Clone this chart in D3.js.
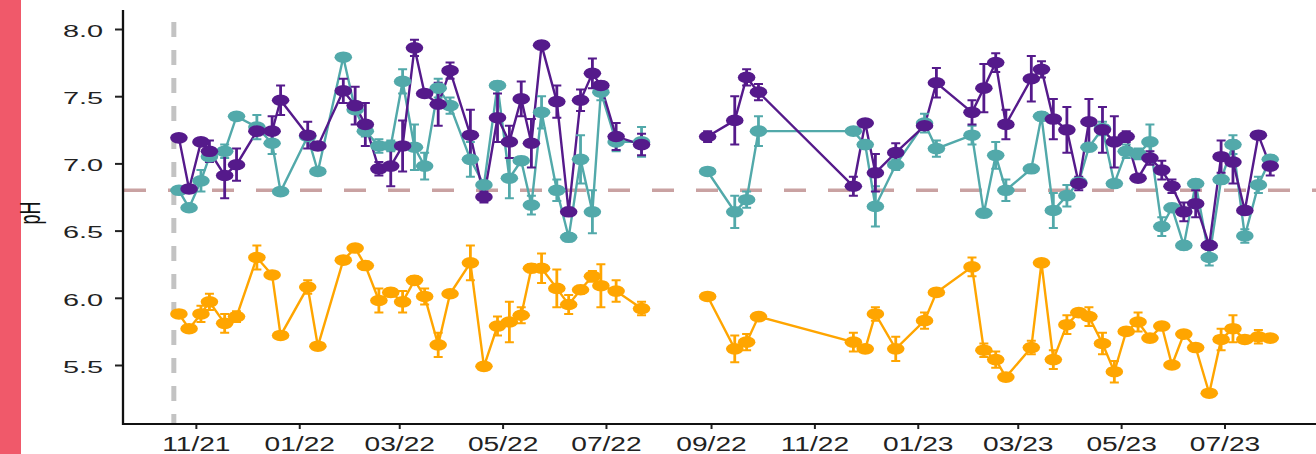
<!DOCTYPE html>
<html>
<head>
<meta charset="utf-8">
<script src="https://cdn.jsdelivr.net/npm/d3@7"></script>
<style>
body { margin: 0; background: #fff; }
svg { display: block; font-family: "Liberation Sans", Arial, sans-serif; }
</style>
</head>
<body>
<svg width="1316" height="454"></svg>
<script>
// sampling dates (null row = break in the lines)
const sampleDates = [
  "2021-10-22","2021-10-28","2021-11-04","2021-11-09","2021-11-18","2021-11-25","2021-12-07","2021-12-16","2021-12-21",
  "2022-01-06","2022-01-12","2022-01-27","2022-02-03","2022-02-09","2022-02-17","2022-02-24","2022-03-03","2022-03-10",
  "2022-03-16","2022-03-24","2022-03-31","2022-04-12","2022-04-20","2022-04-28","2022-05-05","2022-05-12","2022-05-18",
  "2022-05-24","2022-06-02","2022-06-09","2022-06-16","2022-06-23","2022-06-28","2022-07-07","2022-07-22","2022-08-10",
  "2022-08-30","2022-09-15","2022-09-22","2022-09-29","2022-11-24","2022-12-01","2022-12-07","2022-12-19","2023-01-05",
  "2023-01-12","2023-02-02","2023-02-09","2023-02-16","2023-02-22","2023-03-09","2023-03-15","2023-03-22","2023-03-30",
  "2023-04-06","2023-04-12","2023-04-20","2023-04-27","2023-05-04","2023-05-11","2023-05-18","2023-05-25","2023-05-31",
  "2023-06-07","2023-06-14","2023-06-22","2023-06-29","2023-07-06","2023-07-13","2023-07-21","2023-07-28"
];

const purplePH = [
  7.19,6.81,7.16,7.09,6.91,6.99,7.24,7.24,7.47,
  7.21,7.13,7.54,7.43,7.29,6.96,6.98,7.13,7.86,
  7.52,7.44,7.69,7.21,6.75,7.34,7.16,7.48,7.15,
  7.88,7.46,6.64,7.47,7.67,7.58,7.20,7.14,null,
  7.20,7.32,7.64,7.53,6.83,7.30,6.93,7.08,7.28,
  7.60,7.38,7.56,7.75,7.29,7.63,7.70,7.33,7.25,
  6.85,7.31,7.25,7.16,7.20,6.89,7.04,6.95,6.83,
  6.64,6.70,6.39,7.05,7.01,6.65,7.21,6.98
];
const purpleErr = [
  0,0.03,0,0.08,0.17,0.12,0.03,0.11,0.11,
  0.10,0.03,0.09,0.14,0.16,0.05,0.15,0.19,0.06,
  0,0.16,0.06,0.19,0.04,0.18,0.12,0.13,0.18,
  0.03,0.12,0.03,0.08,0.11,0.03,0.10,0.08,0,
  0.04,0.18,0.06,0.06,0.07,0,0.14,0.07,0.03,
  0.11,0.09,0.18,0.07,0.11,0.17,0.06,0.15,0.17,
  0.05,0.17,0.17,0.19,0.04,0.02,0.05,0.07,0.05,
  0.07,0.10,0.03,0.12,0.16,0.03,0.02,0.07
];

const tealPH = [
  6.80,6.67,6.87,7.05,7.09,7.35,7.27,7.15,6.79,
  7.20,6.94,7.79,7.40,7.24,7.13,7.13,7.61,7.12,
  6.98,7.56,7.43,7.03,6.84,7.58,6.89,7.02,6.69,
  7.38,6.80,6.45,7.03,6.64,7.53,7.16,7.16,null,
  6.94,6.64,6.73,7.24,7.24,7.14,6.68,6.99,7.30,
  7.11,7.21,6.63,7.06,6.80,6.96,7.35,6.65,6.76,
  6.86,7.12,7.26,6.85,7.09,7.07,7.16,6.53,6.67,
  6.39,6.85,6.30,6.88,7.14,6.46,6.84,7.03
];
const tealErr = [
  0,0.02,0.08,0.03,0.05,0,0.09,0.08,0.02,
  0,0.02,0.02,0,0.04,0.05,0.04,0.09,0.17,
  0.10,0.07,0.06,0.13,0.03,0.03,0.15,0.03,0.07,
  0.12,0.08,0.03,0.18,0.16,0.06,0.07,0.11,0,
  0,0.12,0.06,0.11,0,0.03,0.15,0.04,0.07,
  0.06,0.07,0.03,0.10,0.08,0.03,0.03,0.13,0.08,
  0.03,0.03,0.05,0.02,0.05,0.04,0.13,0.07,0.03,
  0.03,0.03,0.06,0.03,0.07,0.05,0.06,0.03
];

const orangePH = [
  5.88,5.77,5.88,5.97,5.81,5.86,6.30,6.17,5.72,
  6.08,5.64,6.28,6.37,6.24,5.98,6.04,5.97,6.13,
  6.01,5.65,6.03,6.26,5.49,5.79,5.82,5.87,6.22,
  6.22,6.07,5.95,6.06,6.16,6.09,6.05,5.92,null,
  6.01,5.62,5.67,5.86,5.67,5.62,5.88,5.62,5.83,
  6.04,6.23,5.61,5.54,5.41,5.63,6.26,5.54,5.80,
  5.89,5.86,5.66,5.45,5.75,5.82,5.70,5.79,5.50,
  5.73,5.63,5.29,5.69,5.77,5.69,5.71,5.70
];
const orangeErr = [
  0,0,0.06,0.06,0.07,0.04,0.09,0,0,
  0.05,0,0,0,0.03,0.09,0.03,0.08,0.03,
  0.06,0.09,0,0.13,0,0.07,0.15,0.06,0.03,
  0.11,0.14,0.07,0.03,0.04,0.16,0.08,0.05,0,
  0,0.10,0.06,0,0.07,0,0.05,0.09,0.06,
  0,0.07,0.05,0.06,0,0.05,0,0.07,0.07,
  0,0.07,0.08,0.08,0,0.07,0,0,0,
  0,0,0,0.08,0.10,0,0.05,0
];

const xTickLabels = ["2021-11-01","2022-01-01","2022-03-01","2022-05-01","2022-07-01","2022-09-01",
                     "2022-11-01","2023-01-01","2023-03-01","2023-05-01","2023-07-01"];
const yTickValues = [5.5, 6.0, 6.5, 7.0, 7.5, 8.0];
const thresholdPH = 6.8;
const markerDate = "2021-10-19";

var svg = d3.select("svg"),
    width = +svg.attr("width"),
    height = +svg.attr("height");

const parse = d3.timeParse("%Y-%m-%d");
const panelLeft = 123, panelTop = 10, panelBottom = 424;

var x = d3.scaleTime()
    .domain([parse("2021-09-19"), parse("2023-08-24")])
    .range([panelLeft, width]);
var y = d3.scaleLinear()
    .domain([5.5, 8.0])
    .range([365, 29]);

// red strip at the left edge
svg.append("rect")
    .attr("x", 0).attr("y", 0)
    .attr("width", 21).attr("height", height)
    .attr("fill", "#f0596a");

// reference lines
svg.append("line")
    .attr("x1", panelLeft + 1).attr("x2", width)
    .attr("y1", y(thresholdPH)).attr("y2", y(thresholdPH))
    .attr("stroke", "#c9a2a2")
    .attr("stroke-width", 3.6)
    .attr("stroke-dasharray", "22 22");

svg.append("line")
    .attr("x1", x(parse(markerDate))).attr("x2", x(parse(markerDate)))
    .attr("y1", 22).attr("y2", panelBottom)
    .attr("stroke", "#c3c3c3")
    .attr("stroke-width", 5)
    .attr("stroke-dasharray", "15 13");

var series = [
    {name: "teal", color: "#52a9aa", values: tealPH, errs: tealErr},
    {name: "purple", color: "#551a8b", values: purplePH, errs: purpleErr},
    {name: "orange", color: "#ffa500", values: orangePH, errs: orangeErr}
];
series.forEach(function(s) {
    s.points = sampleDates.map(function(d, i) {
        return {date: parse(d), v: s.values[i], e: s.errs[i]};
    });
});

var line = d3.line()
    .defined(function(p) { return p.v != null; })
    .x(function(p) { return x(p.date); })
    .y(function(p) { return y(p.v); });

svg.append("g")
    .selectAll("path")
    .data(series)
    .enter().append("path")
    .attr("d", function(s) { return line(s.points); })
    .attr("fill", "none")
    .attr("stroke", function(s) { return s.color; })
    .attr("stroke-width", 2.4);

var errG = svg.append("g")
    .selectAll("g")
    .data(series)
    .enter().append("g")
    .attr("stroke", function(s) { return s.color; });

errG.each(function(s) {
    var pts = s.points.filter(function(p) { return p.v != null && p.e > 0; });
    var g = d3.select(this);
    // vertical whiskers (a bit wider, the picture is stretched sideways)
    g.selectAll("line")
        .data(pts)
        .enter().append("line")
        .attr("x1", function(p) { return x(p.date); })
        .attr("x2", function(p) { return x(p.date); })
        .attr("y1", function(p) { return y(p.v + p.e); })
        .attr("y2", function(p) { return y(p.v - p.e); })
        .attr("stroke-width", 2.8);
    g.selectAll("path")
        .data(pts)
        .enter().append("path")
        .attr("fill", "none")
        .attr("stroke-width", 2)
        .attr("d", function(p) {
            var cx = x(p.date), y1 = y(p.v + p.e), y2 = y(p.v - p.e);
            return "M" + (cx - 4.5) + "," + y1 + "H" + (cx + 4.5) +
                   "M" + (cx - 4.5) + "," + y2 + "H" + (cx + 4.5);
        });
});

var ptG = svg.append("g")
    .selectAll("g")
    .data(series)
    .enter().append("g")
    .attr("fill", function(s) { return s.color; });

ptG.each(function(s) {
    d3.select(this).selectAll("ellipse")
        .data(s.points.filter(function(p) { return p.v != null; }))
        .enter().append("ellipse")
        .attr("cx", function(p) { return x(p.date); })
        .attr("cy", function(p) { return y(p.v); })
        .attr("rx", 8.8)
        .attr("ry", 5.8);
});

// axes
var yAxis = svg.append("g")
    .attr("transform", "translate(" + panelLeft + ",0)")
    .call(d3.axisLeft(y).tickValues(yTickValues).tickFormat(d3.format(".1f")).tickSize(8));
yAxis.select(".domain").remove();
yAxis.selectAll(".tick line").attr("stroke", "#222").attr("stroke-width", 2);
yAxis.selectAll(".tick text")
    .attr("x", null).attr("dy", null)
    .attr("fill", "#222")
    .attr("font-size", 16.5)
    .attr("text-anchor", "end")
    .attr("transform", "translate(-20,7.3) scale(1.75,1)");

var xAxis = svg.append("g")
    .attr("transform", "translate(0," + panelBottom + ")")
    .call(d3.axisBottom(x).tickValues(xTickLabels.map(parse)).tickFormat(d3.timeFormat("%m/%y")).tickSize(5));
xAxis.select(".domain").remove();
xAxis.selectAll(".tick line").attr("stroke", "#222").attr("stroke-width", 2);
xAxis.selectAll(".tick text")
    .attr("y", null).attr("dy", null)
    .attr("fill", "#222")
    .attr("font-size", 21)
    .attr("text-anchor", "middle")
    .attr("transform", "translate(0,27) scale(1.34,1)");

svg.append("line")
    .attr("x1", panelLeft).attr("x2", panelLeft)
    .attr("y1", panelTop).attr("y2", panelBottom + 1)
    .attr("stroke", "#111").attr("stroke-width", 2.3);
svg.append("line")
    .attr("x1", panelLeft - 1).attr("x2", width)
    .attr("y1", panelBottom).attr("y2", panelBottom)
    .attr("stroke", "#111").attr("stroke-width", 2.2);

svg.append("text")
    .attr("transform", "translate(40,213) scale(1.6,1) rotate(-90)")
    .attr("text-anchor", "middle")
    .attr("font-size", 18)
    .attr("fill", "#111")
    .text("pH");
</script>
</body>
</html>
